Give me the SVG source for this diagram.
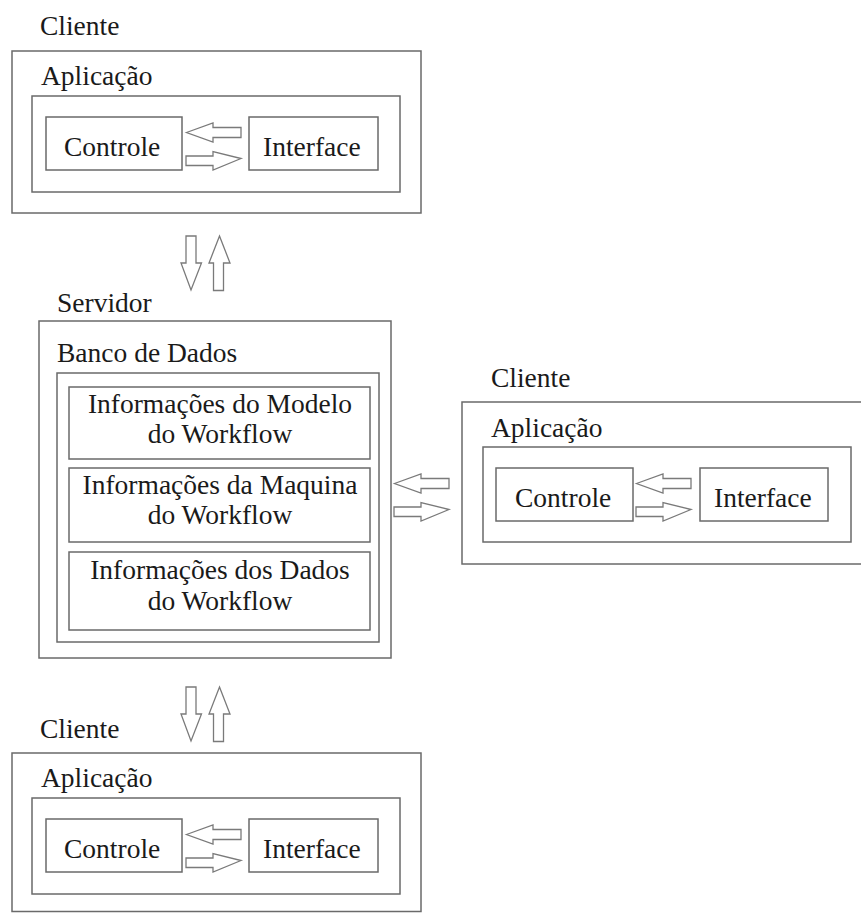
<svg xmlns="http://www.w3.org/2000/svg" xmlns:xlink="http://www.w3.org/1999/xlink" width="861" height="913" viewBox="0 0 861 913">
  <style>
    .box { fill: none; stroke: #6a6a6a; stroke-width: 1.5; }
    .arrow { fill: #ffffff; stroke: #7a7a7a; stroke-width: 1.3; stroke-linejoin: miter; }
    .lbl { font-family: 'Liberation Serif', 'Times New Roman', serif; font-size: 27.5px; fill: #1a1a1a; }
    .mid { text-anchor: middle; }
  </style>
  <defs>
    <!-- pair of hollow block arrows, left-pointing above right-pointing -->
    <g id="hpair">
      <polygon class="arrow" points="186.5,132.5 213,123 213,127.5 241,127.5 241,137.5 213,137.5 213,142"/>
      <polygon class="arrow" points="186,156 213,156 213,151.5 241,158.5 213,170 213,165.5 186,165.5"/>
    </g>
    <!-- pair of hollow block arrows, down-pointing beside up-pointing -->
    <g id="vpair">
      <polygon class="arrow" points="186,236 196,236 196,263 201.5,263 191,290 181,263 186,263"/>
      <polygon class="arrow" points="219.5,236 230,263 223.5,263 223.5,290.5 213.5,290.5 213.5,263 209,263"/>
    </g>
  </defs>

  <rect width="861" height="913" fill="#ffffff"/>

  <!-- client at the top -->
  <g id="cliente-topo">
    <text class="lbl" x="40" y="35">Cliente</text>
    <rect class="box" x="12" y="51" width="409" height="162"/>
    <text class="lbl" x="41" y="85">Aplicação</text>
    <rect class="box" x="32" y="96" width="368" height="96"/>
    <g id="controle-topo">
      <rect class="box" x="46" y="117" width="136" height="53"/>
      <text class="lbl" x="64" y="156">Controle</text>
    </g>
    <g id="interface-topo">
      <rect class="box" x="249" y="117" width="129" height="53"/>
      <text class="lbl" x="263" y="156">Interface</text>
    </g>
  </g>

  <!-- server with its database -->
  <g id="servidor">
    <text class="lbl" x="57" y="312">Servidor</text>
    <rect class="box" x="39" y="321" width="352" height="337"/>
    <text class="lbl" x="57" y="362">Banco de Dados</text>
    <rect class="box" x="57" y="373" width="322" height="269"/>
    <g id="info-modelo">
      <rect class="box" x="69" y="387" width="301" height="72"/>
      <text class="lbl mid" x="220" y="413">Informações do Modelo</text>
      <text class="lbl mid" x="220" y="443">do Workflow</text>
    </g>
    <g id="info-maquina">
      <rect class="box" x="69" y="468" width="301" height="74"/>
      <text class="lbl mid" x="220" y="494">Informações da Maquina</text>
      <text class="lbl mid" x="220" y="524">do Workflow</text>
    </g>
    <g id="info-dados">
      <rect class="box" x="69" y="552" width="301" height="78"/>
      <text class="lbl mid" x="220" y="579">Informações dos Dados</text>
      <text class="lbl mid" x="220" y="610">do Workflow</text>
    </g>
  </g>

  <!-- client on the right -->
  <g id="cliente-direita" transform="translate(450,351)">
    <text class="lbl" x="41" y="36">Cliente</text>
    <rect class="box" x="12" y="51" width="420" height="162"/>
    <text class="lbl" x="41" y="86">Aplicação</text>
    <rect class="box" x="33" y="96" width="368" height="95"/>
    <g id="controle-direita">
      <rect class="box" x="46" y="117" width="137" height="53"/>
      <text class="lbl" x="65" y="156">Controle</text>
    </g>
    <g id="interface-direita">
      <rect class="box" x="250" y="117" width="128" height="53"/>
      <text class="lbl" x="264" y="156">Interface</text>
    </g>
  </g>

  <!-- client at the bottom -->
  <g id="cliente-base" transform="translate(0,702)">
    <text class="lbl" x="40" y="36">Cliente</text>
    <rect class="box" x="12" y="51" width="409" height="158.5"/>
    <text class="lbl" x="41" y="85">Aplicação</text>
    <rect class="box" x="32" y="96" width="368" height="96"/>
    <g id="controle-base">
      <rect class="box" x="46" y="117" width="136" height="53"/>
      <text class="lbl" x="64" y="156">Controle</text>
    </g>
    <g id="interface-base">
      <rect class="box" x="249" y="117" width="129" height="53"/>
      <text class="lbl" x="263" y="156">Interface</text>
    </g>
  </g>

  <!-- connectors -->
  <g id="conectores">
    <use xlink:href="#hpair"/>
    <use xlink:href="#hpair" transform="translate(450,351)"/>
    <use xlink:href="#hpair" transform="translate(0,702)"/>
    <use xlink:href="#hpair" transform="translate(208,351)"/>
    <use xlink:href="#vpair"/>
    <use xlink:href="#vpair" transform="translate(0,451)"/>
  </g>
</svg>
